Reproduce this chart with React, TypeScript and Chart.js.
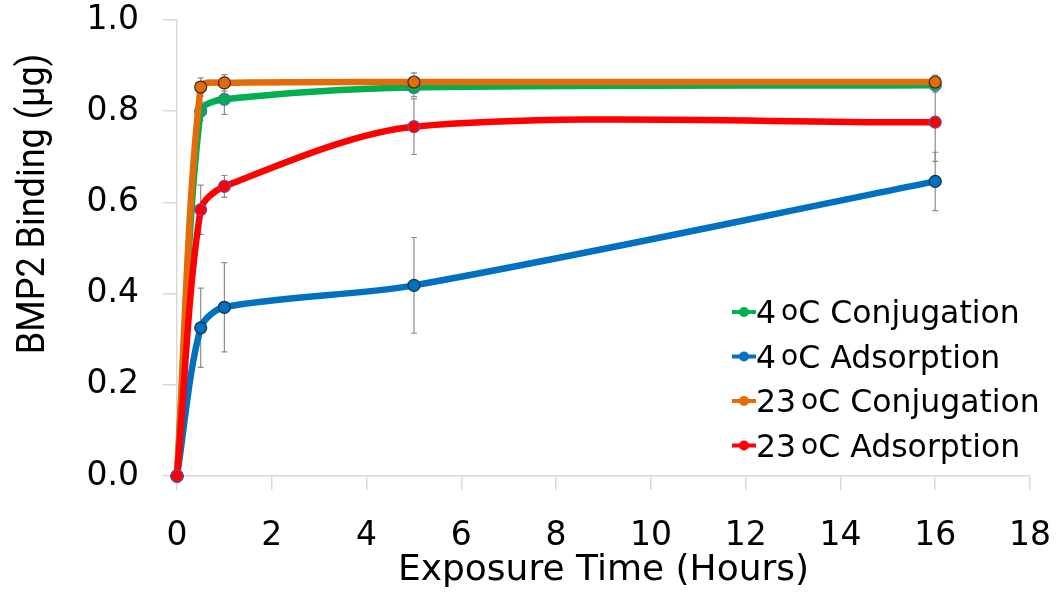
import React, { useEffect, useRef } from 'react';
import { Chart, registerables } from 'chart.js';

Chart.register(...registerables);

// ---- data ----
const hours = [0, 0.5, 1, 5, 16];
const conj4 = [0, 0.8, 0.826, 0.852, 0.857];
const ads4 = [0, 0.325, 0.37, 0.418, 0.646];
const conj23 = [0, 0.853, 0.862, 0.864, 0.864];
const ads23 = [0, 0.584, 0.635, 0.766, 0.776];

const conj4Err = [0, 0.02, 0.033, 0.02, 0.015];
const ads4Err = [0, 0.087, 0.098, 0.105, 0.064];
const conj23Err = [0, 0.02, 0.018, 0.02, 0.015];
const ads23Err = [0, 0.054, 0.024, 0.061, 0.086];

const temps = ['4', '4', '23', '23'];
const methods = ['Conjugation', 'Adsorption', 'Conjugation', 'Adsorption'];
const colors = ['#00B050', '#0070C0', '#E36C0A', '#FF0000'];
const pointBorders = ['#4f6fa8', '#1f2f3f', '#3a2a1a', '#6a4fb0'];
const drawOrder = [3, 2, 1, 0];

const xTicks = [0, 2, 4, 6, 8, 10, 12, 14, 16, 18];
const yTicks = [0, 0.2, 0.4, 0.6, 0.8, 1.0];

const xTitle = 'Exposure Time (Hours)';
const yTitle = 'BMP2 Binding (\u00B5g)';

const seriesValues = [conj4, ads4, conj23, ads23];
const seriesErrors = [conj4Err, ads4Err, conj23Err, ads23Err];

const FONT = '"DejaVu Sans", sans-serif';

const errorBarPlugin = {
  id: 'errorBars',
  beforeDatasetsDraw(chart: any) {
    const { ctx, scales } = chart;
    const x = scales.x;
    const y = scales.y;
    ctx.save();
    ctx.strokeStyle = '#8c8c8c';
    ctx.lineWidth = 1.2;
    seriesErrors.forEach((errs, si) => {
      errs.forEach((e, i) => {
        if (!e) return;
        const v = seriesValues[si][i];
        const px = x.getPixelForValue(hours[i]);
        const pt = y.getPixelForValue(v + e);
        const pb = y.getPixelForValue(v - e);
        ctx.beginPath();
        ctx.moveTo(px, pt);
        ctx.lineTo(px, pb);
        ctx.moveTo(px - 3, pt);
        ctx.lineTo(px + 3, pt);
        ctx.moveTo(px - 3, pb);
        ctx.lineTo(px + 3, pb);
        ctx.stroke();
      });
    });
    ctx.restore();
  },
};

const titlesLegendPlugin = {
  id: 'titlesLegend',
  afterDraw(chart: any) {
    const { ctx, chartArea } = chart;
    ctx.save();
    ctx.fillStyle = '#000';
    // x title
    ctx.font = `36px ${FONT}`;
    ctx.textAlign = 'center';
    ctx.textBaseline = 'alphabetic';
    ctx.fillText(xTitle, (chartArea.left + chartArea.right) / 2, 580);
    // y title (rotated)
    ctx.save();
    ctx.translate(44, 204);
    ctx.rotate(-Math.PI / 2);
    ctx.scale(1, 1.1);
    ctx.font = '36px Roboto, sans-serif';
    ctx.textAlign = 'center';
    ctx.textBaseline = 'alphabetic';
    ctx.fillText(yTitle, 0, 0);
    ctx.restore();

    // legend
    ctx.textAlign = 'left';
    ctx.textBaseline = 'alphabetic';
    for (let i = 0; i < temps.length; i++) {
      const base = 323 + i * 44.5;
      const cy = base - 11;
      ctx.strokeStyle = colors[i];
      ctx.lineWidth = 4;
      ctx.beginPath();
      ctx.moveTo(732, cy);
      ctx.lineTo(756, cy);
      ctx.stroke();
      ctx.fillStyle = colors[i];
      ctx.beginPath();
      ctx.arc(744, cy, 5, 0, Math.PI * 2);
      ctx.fill();
      ctx.fillStyle = '#000';
      let xx = 756;
      ctx.font = `31.5px ${FONT}`;
      ctx.fillText(temps[i], xx, base);
      xx += ctx.measureText(temps[i]).width + 5;
      ctx.font = `28px ${FONT}`;
      ctx.fillText('o', xx, base - 3);
      xx += ctx.measureText('o').width;
      ctx.font = `31.5px ${FONT}`;
      ctx.fillText('C ' + methods[i], xx, base);
    }
    ctx.restore();
  },
};

export default function App() {
  const ref = useRef<HTMLCanvasElement>(null);

  useEffect(() => {
    document.body.style.margin = '0';
    const canvas = ref.current;
    if (!canvas) return;
    const datasets = seriesValues.map((vals, si) => ({
      label: `${temps[si]} \u00B0C ${methods[si]}`,
      data: hours.map((h, i) => ({ x: h, y: vals[i] })),
      borderColor: colors[si],
      backgroundColor: colors[si],
      borderWidth: 6.5,
      pointRadius: 6,
      pointBorderWidth: 1.2,
      pointBorderColor: pointBorders[si],
      pointBackgroundColor: colors[si],
      tension: 0.3,
      order: drawOrder[si],
      clip: false as any,
    }));

    const chart = new Chart(canvas, {
      type: 'line',
      data: { datasets },
      options: {
        animation: false,
        responsive: false,
        devicePixelRatio: 1,
        layout: { padding: { left: 0, right: 29, top: 20, bottom: 0 } },
        plugins: {
          legend: { display: false },
          tooltip: { enabled: false },
        },
        scales: {
          x: {
            type: 'linear',
            min: 0,
            max: 18,
            afterBuildTicks: (scale: any) => {
              scale.ticks = xTicks.map((v) => ({ value: v }));
            },
            afterFit: (scale: any) => {
              scale.height = 122;
              scale.paddingLeft = 0;
              scale.paddingRight = 0;
            },
            ticks: {
              font: { family: FONT, size: 33 },
              color: '#000',
              padding: 27,
              maxRotation: 0,
              autoSkip: false,
              callback: (v: any) => String(v),
            },
            grid: {
              drawOnChartArea: false,
              drawTicks: true,
              tickLength: 14,
              color: '#d9d9d9',
              lineWidth: 1.5,
            },
            border: { color: '#d9d9d9', width: 1.5 },
          },
          y: {
            type: 'linear',
            min: 0,
            max: 1,
            afterBuildTicks: (scale: any) => {
              scale.ticks = yTicks.map((v) => ({ value: v }));
            },
            afterFit: (scale: any) => {
              scale.width = 177;
              scale.paddingTop = 0;
              scale.paddingBottom = 0;
            },
            ticks: {
              font: { family: FONT, size: 33 },
              color: '#000',
              padding: 24,
              autoSkip: false,
              callback: (v: any) => Number(v).toFixed(1),
            },
            grid: {
              drawOnChartArea: false,
              drawTicks: true,
              tickLength: 14,
              color: '#d9d9d9',
              lineWidth: 1.5,
            },
            border: { color: '#d9d9d9', width: 1.5 },
          },
        },
      },
      plugins: [errorBarPlugin, titlesLegendPlugin],
    });
    return () => chart.destroy();
  }, []);

  return (
    <div style={{ width: 1059, height: 598, background: '#fff' }}>
      <canvas ref={ref} width={1059} height={598} style={{ display: 'block' }} />
    </div>
  );
}
